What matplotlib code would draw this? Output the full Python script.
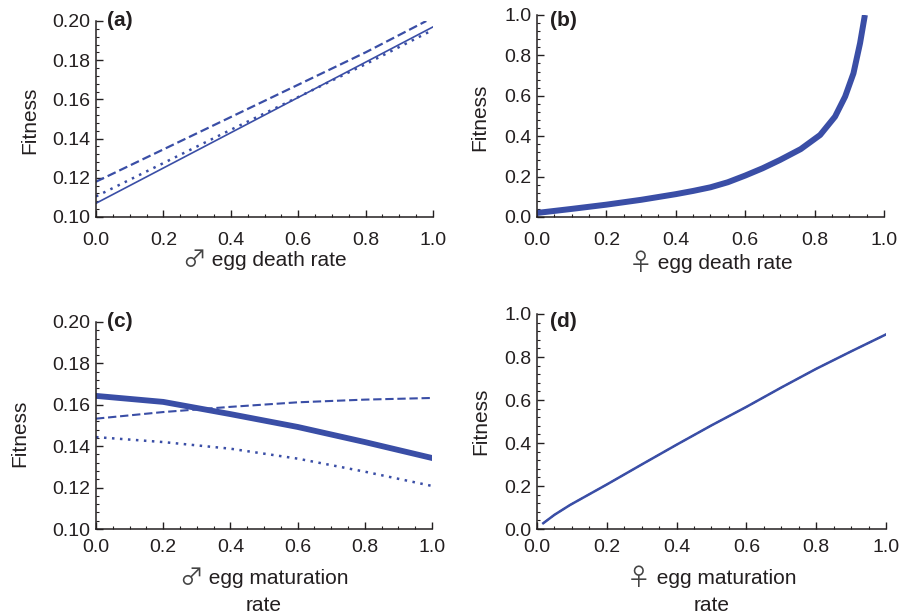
import numpy as np
import matplotlib
matplotlib.use('Agg')
import matplotlib.pyplot as plt
from matplotlib.ticker import MultipleLocator, FormatStrFormatter
from matplotlib.offsetbox import TextArea, HPacker, VPacker, AnchoredOffsetbox

plt.rcParams['font.family'] = ['Liberation Sans', 'DejaVu Sans']

BLUE = '#3a4ea6'
TXT = '#231f20'

# (a) male egg death rate
xa = [0.0, 0.2, 0.4, 0.6, 0.8, 1.0]
a_solid = [0.107, 0.125, 0.143, 0.161, 0.179, 0.197]
a_dot = [0.1105, 0.1275, 0.1445, 0.1612, 0.178, 0.1955]
xa_dash = [0.0, 0.2, 0.4, 0.6, 0.8, 0.98]
a_dash = [0.118, 0.1345, 0.151, 0.1675, 0.184, 0.2]

# (b) female egg death rate
xb = [0.0, 0.1, 0.2, 0.3, 0.4, 0.45, 0.5, 0.55, 0.6, 0.65, 0.7, 0.76,
      0.816, 0.859, 0.888, 0.912, 0.931, 0.945]
b_fit = [0.02, 0.04, 0.061, 0.085, 0.113, 0.129, 0.147, 0.172, 0.205, 0.241,
         0.282, 0.336, 0.406, 0.497, 0.596, 0.711, 0.86, 1.0]

# (c) male egg maturation rate
xc = [0.0, 0.2, 0.4, 0.6, 0.8, 1.0]
c_solid = [0.1643, 0.1614, 0.1555, 0.1493, 0.142, 0.1343]
c_dash = [0.1533, 0.1565, 0.159, 0.1612, 0.1625, 0.1633]
c_dot = [0.1444, 0.1420, 0.1388, 0.134, 0.1277, 0.1208]

# (d) female egg maturation rate
xd = [0.018, 0.05, 0.095, 0.2, 0.3, 0.4, 0.5, 0.6, 0.7, 0.8, 0.9, 1.0]
d_fit = [0.027, 0.066, 0.112, 0.207, 0.30, 0.392, 0.482, 0.568, 0.658,
         0.745, 0.826, 0.905]

fig = plt.figure(figsize=(8.99, 6.14), dpi=100)
axa = fig.add_axes([0.1068, 0.6466, 0.3749, 0.3192])
axb = fig.add_axes([0.5973, 0.6466, 0.386, 0.329])
axc = fig.add_axes([0.1068, 0.1384, 0.3738, 0.3372])
axd = fig.add_axes([0.5973, 0.1384, 0.3882, 0.3502])


def style(ax, ylim, ymaj, ymin, yfmt, xpad):
    ax.set_xlim(0, 1)
    ax.set_ylim(*ylim)
    for s in ['top', 'right']:
        ax.spines[s].set_visible(False)
    for s in ['left', 'bottom']:
        ax.spines[s].set_color(TXT)
        ax.spines[s].set_linewidth(1.1)
    ax.xaxis.set_major_locator(MultipleLocator(0.2))
    ax.xaxis.set_minor_locator(MultipleLocator(0.05))
    ax.yaxis.set_major_locator(MultipleLocator(ymaj))
    ax.yaxis.set_minor_locator(MultipleLocator(ymin))
    ax.xaxis.set_major_formatter(FormatStrFormatter('%.1f'))
    ax.yaxis.set_major_formatter(FormatStrFormatter(yfmt))
    ax.tick_params(which='both', direction='in', colors=TXT, labelsize=14)
    ax.tick_params(which='major', length=5, width=1)
    ax.tick_params(which='minor', length=2.5, width=0.8)
    ax.tick_params(axis='x', pad=xpad)
    ax.tick_params(axis='y', pad=4)


def ylabel(ax, x, y):
    ax.set_ylabel('Fitness', fontsize=15, color=TXT)
    ax.yaxis.label.set_va('center')
    ax.yaxis.set_label_coords(x, y)


def panel(ax, label, x, y):
    ax.text(x, y, label, transform=ax.transAxes, fontsize=15,
            fontweight='bold', va='center', ha='left', color=TXT)


def sex_xlabel(ax, sym, lines, top):
    tp = dict(size=15, color=TXT, family=['Liberation Sans'])
    sym_area = TextArea(sym, textprops=dict(size=17, color='#444444',
                                            family=['Noto Sans CJK JP',
                                                    'DejaVu Sans']))
    row = HPacker(children=[sym_area, TextArea(' ' + lines[0], textprops=tp)],
                  align='center', pad=0, sep=0)
    kids = [row] + [TextArea(t, textprops=tp) for t in lines[1:]]
    box = VPacker(children=kids, align='center', pad=0, sep=4)
    ab = AnchoredOffsetbox(loc='upper center', child=box, pad=0, borderpad=0,
                           bbox_to_anchor=(0.5, top),
                           bbox_transform=ax.transAxes, frameon=False)
    ax.add_artist(ab)


axa.plot(xa, a_solid, color=BLUE, lw=1.2)
axa.plot(xa, a_dot, color=BLUE, lw=1.8, ls=(0, (1, 2.2)))
axa.plot(xa_dash, a_dash, color=BLUE, lw=1.6, ls=(0, (4, 1.8)))
style(axa, (0.10, 0.20), 0.02, 0.004, '%.2f', 11)
ylabel(axa, -0.196, 0.495)
panel(axa, '(a)', 0.033, 1.005)
sex_xlabel(axa, '\u2642', ['egg death rate'], -0.165)

axb.plot(xb, b_fit, color=BLUE, lw=4.3, solid_capstyle='butt',
         solid_joinstyle='round')
style(axb, (0.0, 1.0), 0.2, 0.04, '%.1f', 11)
ylabel(axb, -0.164, 0.495)
panel(axb, '(b)', 0.037, 0.975)
sex_xlabel(axb, '\u2640', ['egg death rate'], -0.173)

axc.plot(xc, c_solid, color=BLUE, lw=4.2)
axc.plot(xc, c_dash, color=BLUE, lw=1.5, ls=(0, (4, 1.8)))
axc.plot(xc, c_dot, color=BLUE, lw=1.8, ls=(0, (1, 2.2)))
style(axc, (0.10, 0.20), 0.02, 0.004, '%.2f', 7)
ylabel(axc, -0.226, 0.464)
panel(axc, '(c)', 0.033, 1.0)
sex_xlabel(axc, '\u2642', ['egg maturation', 'rate'], -0.185)

axd.plot(xd, d_fit, color=BLUE, lw=1.8)
axd.plot(xd, d_fit, color=BLUE, lw=1.2, ls=(0, (4, 2)))
style(axd, (0.0, 1.0), 0.2, 0.04, '%.1f', 7)
ylabel(axd, -0.160, 0.502)
panel(axd, '(d)', 0.037, 0.963)
sex_xlabel(axd, '\u2640', ['egg maturation', 'rate'], -0.178)

fig.savefig('out.png', dpi=100)
